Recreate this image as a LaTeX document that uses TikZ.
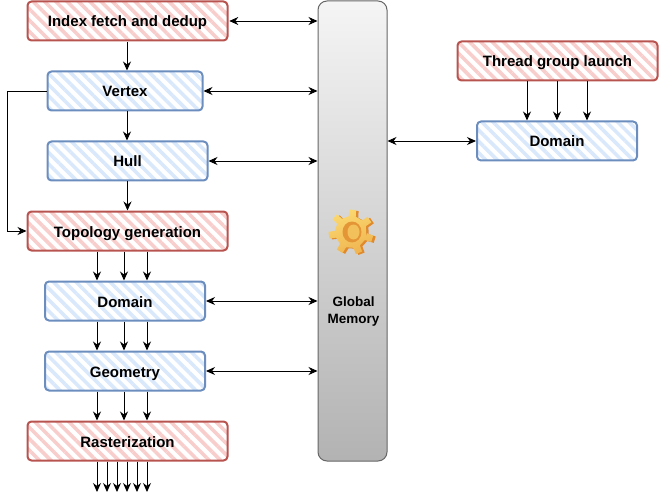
\documentclass[tikz,border=0pt]{standalone}
\usepackage{fontspec}
\setmainfont{Liberation Sans}
\usetikzlibrary{arrows.meta,patterns.meta,calc}
\definecolor{redline}{HTML}{B85450}
\definecolor{redfill}{HTML}{F8CECC}
\definecolor{blueline}{HTML}{6C8EBF}
\definecolor{bluefill}{HTML}{DAE8FC}
\definecolor{gearlight}{HTML}{FBD870}
\definecolor{geardark}{HTML}{E08A2C}
\tikzset{
  stage/.style={rectangle, rounded corners=4pt, line width=2pt, inner sep=0pt,
    minimum height=39pt, text height=12pt, text depth=0pt,
    font=\fontsize{15}{17}\selectfont\bfseries},
  redstage/.style={stage, draw=redline, minimum width=200pt,
    pattern={Lines[angle=-45,distance=8pt,line width=3.6pt]}, pattern color=redfill},
  bluestage/.style={stage, draw=blueline,
    pattern={Lines[angle=-45,distance=8pt,line width=3.6pt]}, pattern color=bluefill},
  flow/.style={-{Stealth[length=9pt,width=8pt]}, line width=0.9pt},
  link/.style={{Stealth[length=9pt,width=8pt]}-{Stealth[length=9pt,width=8pt]}, line width=0.9pt},
}
\begin{document}
\begin{tikzpicture}[x=1pt, y=-1pt]
  \useasboundingbox (0, 0) rectangle (659, 500);

  \node[rectangle, rounded corners=9pt, draw=black!60, line width=1pt, minimum width=69pt,
    minimum height=460pt, top color=black!4, bottom color=black!30] (mem) at (352.5, 231) {};

  \node[redstage] (idx) at (127.5, 21) {Index fetch and dedup};
  \node[bluestage, minimum width=155pt] (vtx) at (125, 91) {Vertex};
  \node[bluestage, minimum width=160pt] (hull) at (127.5, 161) {Hull};
  \node[redstage] (topo) at (127.5, 231) {Topology generation};
  \node[bluestage, minimum width=160pt] (dom) at (125, 301) {Domain};
  \node[bluestage, minimum width=160pt] (geo) at (125, 371) {Geometry};
  \node[redstage] (rast) at (127.5, 441) {Rasterization};
  \node[redstage] (thr) at (557.5, 61) {Thread group launch};
  \node[bluestage, minimum width=160pt] (dom2) at (557, 141) {Domain};
  \node[align=center, inner sep=0pt, font=\fontsize{13.5}{17}\selectfont\bfseries] (memlabel) at (353.5, 312) {Global\\Memory};

  % gear icon
  \fill[geardark] (353.5, 233) ++(17:16) \foreach \i in {0, ..., 6} {
    -- ($(353.5, 233) + (\i*51.43+5:16)$) -- ($(353.5, 233) + (\i*51.43+9:22.5)$)
    -- ($(353.5, 233) + (\i*51.43+26:22.5)$) -- ($(353.5, 233) + (\i*51.43+30:16)$)} -- cycle;
  \shade[left color=gearlight, right color=gearlight!55!geardark, shading angle=20] (351, 232) ++(17:16) \foreach \i in {0, ..., 6} {
    -- ($(351, 232) + (\i*51.43+5:16)$) -- ($(351, 232) + (\i*51.43+9:22.5)$)
    -- ($(351, 232) + (\i*51.43+26:22.5)$) -- ($(351, 232) + (\i*51.43+30:16)$)} -- cycle;
  \fill[geardark!85!gearlight] (352, 232) ellipse (9.5pt and 10.5pt);
  \fill[gearlight!70!geardark] (353.5, 232) ellipse (6pt and 7.5pt);

  \draw[flow] (idx.south -| 127, 0) -- (vtx.north -| 127, 0);
  \draw[flow] (vtx.south -| 127, 0) -- (hull.north -| 127, 0);
  \draw[flow] (hull) -- (topo);

  \foreach \x in {97, 124, 147} {
    \draw[flow] (topo.south -| \x, 0) -- (dom.north -| \x, 0);
    \draw[flow] (dom.south -| \x, 0) -- (geo.north -| \x, 0);
    \draw[flow] (geo.south -| \x, 0) -- (rast.north -| \x, 0);
  }
  \foreach \x in {97, 107, ..., 147} {
    \coordinate (out\x) at (\x, 492);
    \draw[flow] (rast.south -| out\x) -- (out\x);
  }
  \foreach \x in {527, 557, 587} {
    \draw[flow] (thr.south -| \x, 0) -- (dom2.north -| \x, 0);
  }

  \draw[flow] (vtx.west) -- ++(-39, 0) |- (topo.west);

  \draw[link] (idx.east) -- (idx.east -| mem.west);
  \draw[link] (vtx.east) -- (vtx.east -| mem.west);
  \draw[link] (hull.east) -- (hull.east -| mem.west);
  \draw[link] (dom.east) -- (dom.east -| mem.west);
  \draw[link] (geo.east) -- (geo.east -| mem.west);
  \draw[link] (dom2.west) -- (dom2.west -| mem.east);
\end{tikzpicture}
\end{document}
